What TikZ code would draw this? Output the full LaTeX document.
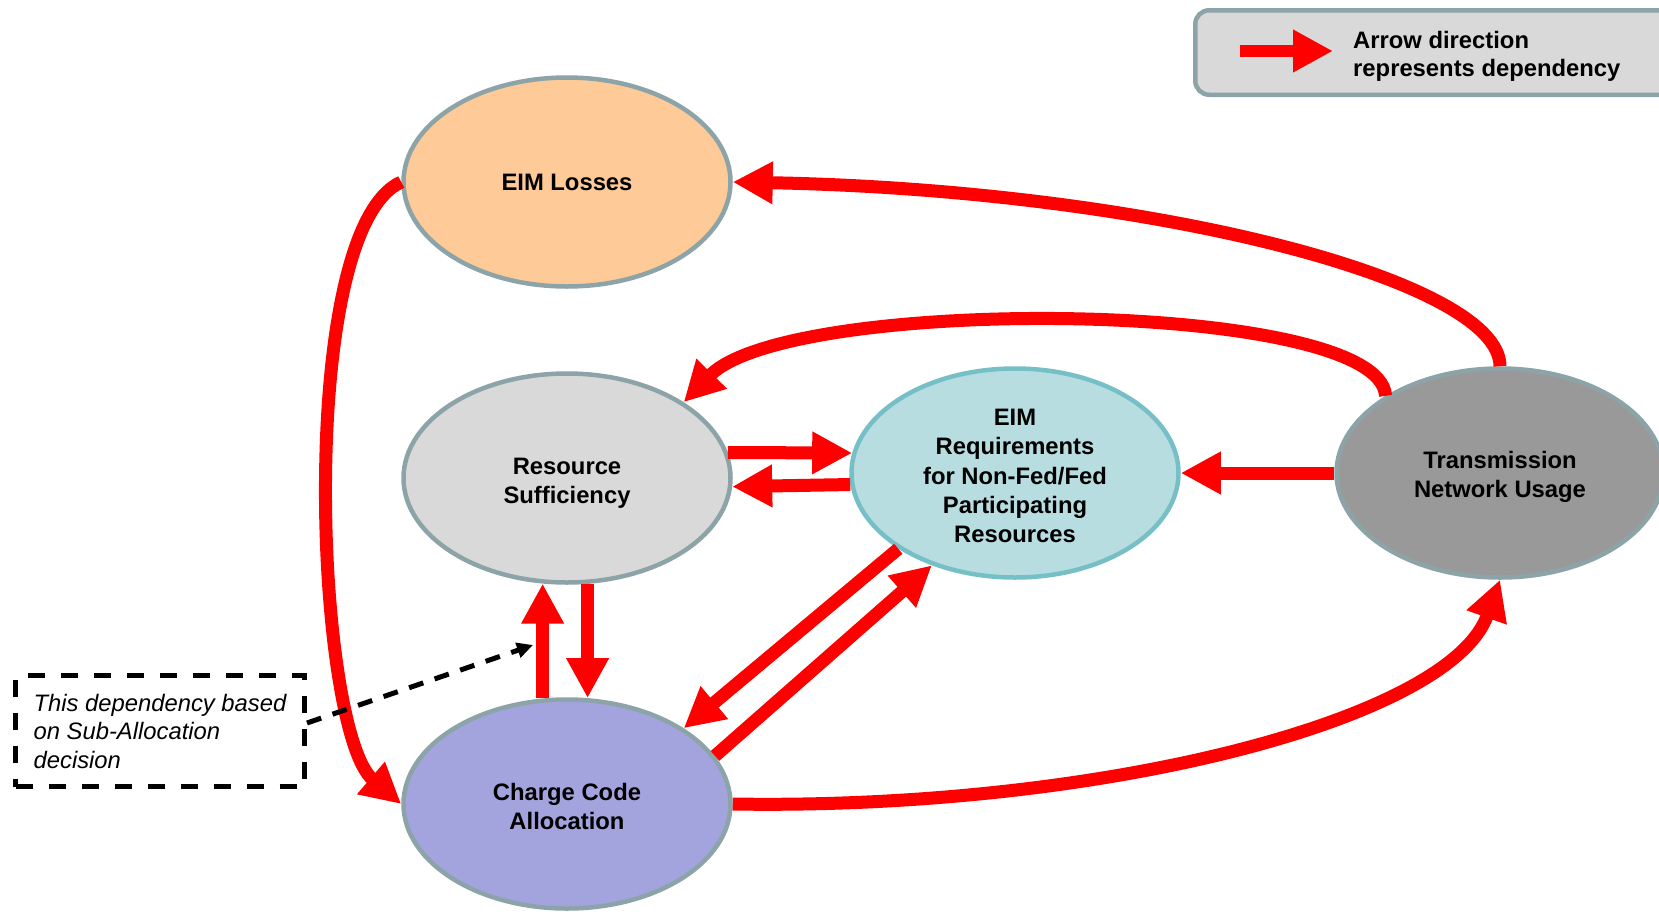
\documentclass[tikz,border=0pt]{standalone}
\usepackage{fontspec}
\setmainfont{Liberation Sans}
\usetikzlibrary{arrows.meta,shapes.geometric}
\definecolor{redA}{HTML}{FF0000}
\definecolor{edgeG}{HTML}{8CA4A7}
\definecolor{edgeT}{HTML}{76BFC6}
\definecolor{fillLoss}{HTML}{FDCA98}
\definecolor{fillRS}{HTML}{D9D9D9}
\definecolor{fillReq}{HTML}{B8DDE1}
\definecolor{fillTr}{HTML}{999999}
\definecolor{fillCC}{HTML}{A3A3DE}
\newcommand{\tpad}[1]{\rule{0pt}{#1}}
\begin{document}
\begin{tikzpicture}[x=1pt,y=-1pt,
  ell/.style={ellipse, draw=edgeG, line width=4.5pt, minimum width=327pt, minimum height=209pt,
    inner sep=0pt, align=center, text depth=0pt, font=\fontsize{23.8}{29.2}\selectfont\bfseries},
  dep/.style={draw=redA, line width=13pt, -{Triangle[length=40pt,width=40pt]}},
  notebox/.style={draw=black, line width=5pt, dash pattern=on 17pt off 16pt, minimum width=289pt,
    minimum height=111pt, inner sep=0pt, align=left, font=\fontsize{23.8}{28.5}\selectfont\itshape},
  pointer/.style={draw=black, line width=5pt, dash pattern=on 15pt off 12pt, -{Triangle[length=16pt,width=15pt]}},
  legendbox/.style={draw=edgeG, fill=fillRS, line width=4.5pt, rounded corners=14pt,
    minimum width=500pt, minimum height=84.5pt, inner sep=0pt},
  legendtext/.style={anchor=west, align=left, inner sep=0pt, font=\fontsize{23.8}{28.5}\selectfont\bfseries}
]
\useasboundingbox (0,0) rectangle (1659,913);
\clip (0,0) rectangle (1659,913);

% legend
\node[legendbox] (legend) at (1445.25,52.5) {};
\coordinate (la) at (1240,51);
\coordinate (lb) at (1333,51);
\draw[dep, line width=12pt] (la) -- (lb);
\node[legendtext] (legtext) at (1353,56.5) {Arrow direction\\represents dependency};

% ellipses
\node[ell, fill=fillLoss] (loss) at (567,182) {EIM Losses};
\node[ell, fill=fillRS] (rs) at (567,478) {\tpad{21.5pt}Resource\\Sufficiency};
\node[ell, fill=fillReq, draw=edgeT] (req) at (1015,473) {\tpad{22.3pt}EIM\\Requirements\\for Non-Fed/Fed\\Participating\\Resources};
\node[ell, fill=fillTr] (tr) at (1500,473) {\tpad{20.5pt}Transmission\\Network Usage};
\node[ell, fill=fillCC] (cc) at (567,804) {\tpad{21.5pt}Charge Code\\Allocation};

% dependency arrows
\draw[dep] (tr.north) .. controls (1500,280) and (1150,190) .. (loss.east);
\draw[dep] (tr.146) .. controls (1380,299) and (790,294) .. (rs.33);
\draw[dep] (tr.west) -- (req.east);
\draw[dep] (rs.9) -- (req.173);
\draw[dep] (req.184) -- (rs.357);
\draw[dep] (req.213) -- (cc.33);
\draw[dep] (cc.18) -- (req.228);
\draw[dep] (cc.103) -- (rs.257);
\draw[dep] (rs.281) -- (cc.79);
\draw[dep] (loss.west) .. controls (295,230) and (315,730) .. (cc.west);
\draw[dep] (cc.east) .. controls (1100,810) and (1450,720) .. (tr.south);

% note
\node[notebox] (note) at (160,731) {This dependency based\\on Sub-Allocation\\decision};
\coordinate (ptr) at (533,645);
\draw[pointer] ([yshift=8pt]note.east) -- (ptr);
\end{tikzpicture}
\end{document}
